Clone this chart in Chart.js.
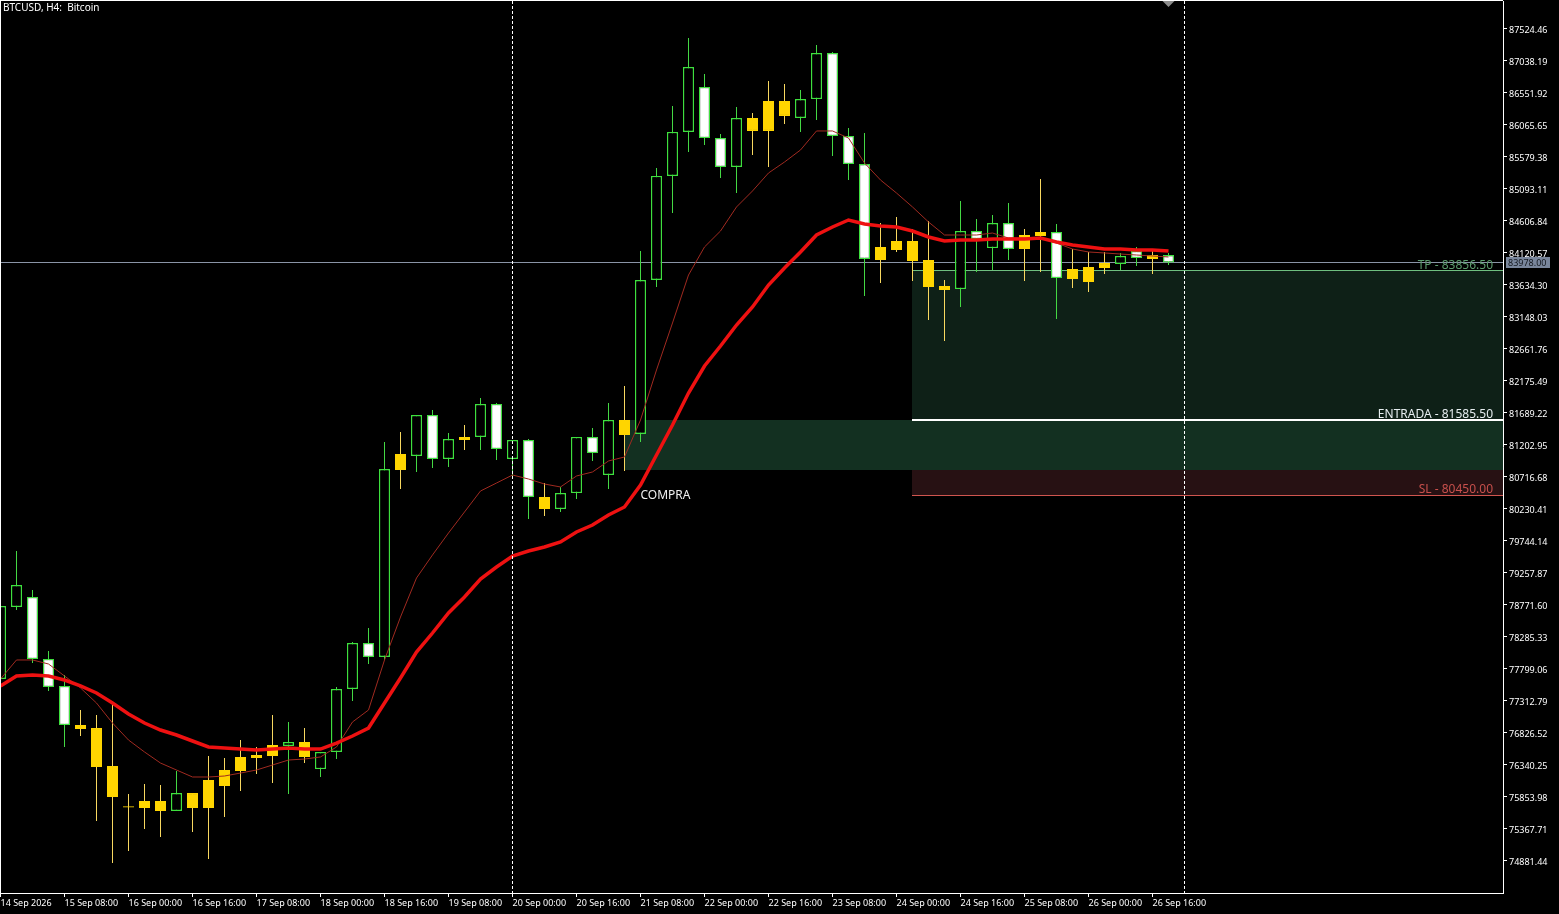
<!DOCTYPE html>
<html>
<head>
<meta charset="utf-8">
<title>BTCUSD H4</title>
<script src="https://cdn.jsdelivr.net/npm/chart.js@4"></script>
<style>
  html, body { margin: 0; padding: 0; background: #000; overflow: hidden; }
  canvas { display: block; }
</style>
</head>
<body>
<canvas id="chart" width="1559" height="914"></canvas>
<script>
// candle type per bar: u = hollow up, d = white down, g = gold
const types = [
  "u","u","d","d","d","g","g","g","g","g","g","u","g","g","g","g","g","g","u","g",
  "u","u","u","d","u","g","u","d","u","g","u","d","u","d","g","u","u","d","u","g",
  "u","u","u","u","d","d","u","g","g","g","u","u","d","d","d","g","g","g","g","g",
  "u","d","u","d","g","g","d","g","g","g","u","d","g","d"
];

const highs = [78756,79592,78999,78073,77708,77176,77100,77282,75899,76051,76036,76249,75914,76477,76446,76720,76614,77100,76994,76902,
  76538,77526,78210,78422,81249,81401,81659,81735,81385,81507,81917,81841,81279,81294,80625,80565,81325,81461,81841,82100,
  84151,85412,86355,87387,86840,85929,86340,86248,86734,86688,86597,87281,87175,86020,85944,84576,84668,84485,84607,83710,
  84911,84637,84698,84880,84485,85245,84561,84181,84136,84136,84121,84212,84181,84121];
const lows = [77647,78696,77890,77465,76614,76781,75489,74851,75033,75367,75246,75641,75322,74912,75550,75945,76203,76066,75899,76370,
  76158,76431,77313,77875,77936,80534,80793,80853,80869,81127,81127,80975,80717,80078,80124,80185,80382,80960,80534,80808,
  81249,83604,84728,85656,85762,85260,85032,85610,85428,86081,85960,86142,85595,85230,83467,83664,84136,83695,83102,82783,
  83300,83832,83862,84014,83695,83832,83117,83588,83528,83801,83862,83923,83801,83938];
const opens = [77647,78741,78893,77951,77541,76948,76902,76325,75712,75793,75793,75641,75914,76112,76021,76249,76446,76477,76629,76690,
  76279,76538,77495,78194,77982,81066,81036,81659,80990,81325,81325,81826,80990,81279,80413,80230,80473,81325,80747,81583,
  81370,83710,85291,85960,86643,85868,85428,86172,86430,86430,86172,86460,87159,85899,85473,84212,84303,84303,84014,83619,
  83573,84455,84196,84576,84394,84440,84440,83877,83908,83968,83953,84151,84090,84090];
const closes = [78756,79075,77951,77526,76948,76887,76310,75854,75695,75687,75641,75914,75687,75687,76264,76462,76492,76644,76690,76462,
  76538,77495,78194,77982,80838,80823,81659,80990,81294,81279,81826,81142,81279,80413,80230,80473,81325,81081,81583,81355,
  83710,85291,85960,86947,85868,85428,86172,85975,85975,86203,86460,87159,85899,85473,84029,84014,84166,83999,83604,83558,
  84455,84333,84576,84181,84181,84379,83740,83725,83680,83892,84075,84044,84029,83978];

const fastMa = [77647,77936,77936,77875,77693,77511,77282,76978,76720,76538,76370,76264,76158,76158,76173,76218,76264,76340,76416,76431,
  76462,76614,76994,77176,77936,78589,79182,79532,79866,80185,80504,80625,80747,80686,80610,80565,80732,80793,80960,81021,
  81583,82343,83057,83786,84212,84455,84820,85063,85336,85503,85686,85975,85975,85868,85488,85230,85032,84820,84592,84394,
  84394,84394,84424,84348,84348,84348,84272,84181,84136,84121,84105,84090,84075,84060];
const slowMa = [77541,77693,77708,77693,77632,77541,77434,77282,77115,76978,76872,76796,76705,76614,76598,76583,76568,76583,76598,76583,
  76583,76674,76781,76902,77282,77662,78057,78346,78650,78893,79166,79349,79516,79592,79653,79729,79881,79987,80139,80261,
  80595,81051,81507,81993,82403,82707,83026,83300,83634,83892,84136,84394,84516,84622,84561,84531,84516,84455,84364,84303,
  84318,84318,84333,84333,84333,84348,84288,84242,84212,84181,84181,84166,84166,84151];

const priceTicks = [87524.46,87038.19,86551.92,86065.65,85579.38,85093.11,84606.84,84120.57,83634.30,83148.03,82661.76,82175.49,81689.22,81202.95,
  80716.68,80230.41,79744.14,79257.87,78771.60,78285.33,77799.06,77312.79,76826.52,76340.25,75853.98,75367.71,74881.44];
const timeLabels = ["14 Sep 2026","15 Sep 08:00","16 Sep 00:00","16 Sep 16:00","17 Sep 08:00","18 Sep 00:00","18 Sep 16:00","19 Sep 08:00",
  "20 Sep 00:00","20 Sep 16:00","21 Sep 08:00","22 Sep 00:00","22 Sep 16:00","23 Sep 08:00","24 Sep 00:00","24 Sep 16:00","25 Sep 08:00",
  "26 Sep 00:00","26 Sep 16:00"];
const BARS_PER_LABEL = 4;

const TP = 83856.50;
const ENTRY = 81585.50;
const SL = 80450.00;
const ENTRY_ZONE_LOW = 80823;
const LAST = 83978.00;
const ENTRY_BAR = 39;   // where the entry zone starts
const SETUP_BAR = 57;   // where the tp/sl boxes start
const MARK_BARS = [32, 74]; // dashed verticals

const colors = {
  u: { fill: "#000000", edge: "#3ee03e", wick: "#44d844", line: 1.4 },
  d: { fill: "#ffffff", edge: "#3ee03e", wick: "#44d844", line: 1.15 },
  g: { fill: "#ffd500", edge: "#ffd500", wick: "#f8d860", line: 1 }
};

const barIdx = highs.map((_, i) => i);

const overlay = {
  id: "overlay",
  beforeDatasetsDraw(chart) {
    const { ctx, chartArea: a, scales: { x, y } } = chart;
    const zone = (bar, top, bottom, color) => {
      const left = Math.round(x.getPixelForValue(bar) - 0.5);
      const t = Math.round(y.getPixelForValue(top));
      const b = Math.round(y.getPixelForValue(bottom));
      ctx.fillStyle = color;
      ctx.fillRect(left, t, a.right - left, b - t);
    };
    const level = (bar, price, color, w) => {
      const left = bar === null ? a.left : Math.round(x.getPixelForValue(bar) - 0.5);
      const py = Math.round(y.getPixelForValue(price));
      ctx.fillStyle = color;
      ctx.fillRect(left, py - Math.floor(w / 2), a.right - left, w);
    };
    ctx.save();
    zone(SETUP_BAR, TP, ENTRY, "#0e2017");
    zone(ENTRY_BAR, ENTRY, ENTRY_ZONE_LOW, "#133021");
    zone(SETUP_BAR, ENTRY_ZONE_LOW, SL, "#271113");
    level(null, LAST, "#8a94a6", 1);
    level(SETUP_BAR, TP, "#6fbf80", 1);
    level(SETUP_BAR, ENTRY, "#ffffff", 2);
    level(SETUP_BAR, SL, "#d0554f", 1);
    ctx.restore();
  },
  afterDatasetsDraw(chart) {
    const { ctx, chartArea: a, scales: { x, y } } = chart;
    ctx.save();

    // frame
    ctx.fillStyle = "#ffffff";
    ctx.fillRect(0, 0, a.right, 1);
    ctx.fillRect(0, 0, 1, a.bottom);

    // dashed verticals
    ctx.strokeStyle = "#ffffff";
    ctx.lineWidth = 1;
    ctx.setLineDash([3, 2]);
    MARK_BARS.forEach(b => {
      const px = x.getPixelForValue(b);
      ctx.beginPath();
      ctx.moveTo(px, a.top);
      ctx.lineTo(px, a.bottom);
      ctx.stroke();
    });
    ctx.setLineDash([]);

    // shift marker
    const mx = x.getPixelForValue(highs.length - 1);
    ctx.fillStyle = "#8c8c8c";
    ctx.beginPath();
    ctx.moveTo(mx - 6, 1);
    ctx.lineTo(mx + 6, 1);
    ctx.lineTo(mx, 7);
    ctx.fill();

    // labels
    ctx.textBaseline = "middle";
    ctx.font = "12px 'Noto Sans'";
    ctx.textAlign = "right";
    const label = (text, price, color) => {
      ctx.fillStyle = color;
      ctx.fillText(text, 1493, y.getPixelForValue(price) - 5);
    };
    label("TP - " + TP.toFixed(2), TP, "#5d9c6e");
    label("ENTRADA - " + ENTRY.toFixed(2), ENTRY, "#e6edf0");
    label("SL - " + SL.toFixed(2), SL, "#c8504c");

    ctx.textAlign = "left";
    ctx.fillStyle = "#f0f0f0";
    ctx.fillText("COMPRA", x.getPixelForValue(ENTRY_BAR) + 16, y.getPixelForValue(SL) + 1);

    ctx.font = "10px 'Noto Sans'";
    ctx.fillStyle = "#ffffff";
    ctx.fillText("BTCUSD, H4:  Bitcoin", 3, 8);

    // price axis labels, one pixel under the tick like the terminal does
    ctx.font = "9px 'Noto Sans'";
    ctx.fillStyle = "#ffffff";
    y.ticks.forEach(t => {
      ctx.fillText(t.value.toFixed(2), a.right + 6, y.getPixelForValue(t.value) + 1);
    });

    // last price tag
    const ly = Math.round(y.getPixelForValue(LAST));
    ctx.fillStyle = "#79869c";
    ctx.fillRect(1506, ly - 5, 44, 11);
    ctx.fillStyle = "#14181f";
    ctx.fillText(LAST.toFixed(2), 1508, ly + 1);
    ctx.restore();
  }
};

new Chart(document.getElementById("chart"), {
  data: {
    datasets: [
      {
        type: "line",
        label: "MA slow",
        data: slowMa.map((v, i) => ({ x: i, y: v })),
        borderColor: "#ee1111",
        borderWidth: 3.5,
        pointRadius: 0,
        tension: 0,
        order: 1
      },
      {
        type: "line",
        label: "MA fast",
        data: fastMa.map((v, i) => ({ x: i, y: v })),
        borderColor: "#a02a20",
        borderWidth: 1,
        pointRadius: 0,
        tension: 0,
        order: 2
      },
      {
        type: "bar",
        label: "Bodies",
        data: barIdx.map(i => ({ x: i, y: [opens[i], closes[i]] })),
        backgroundColor: types.map(t => colors[t].fill),
        borderColor: types.map(t => colors[t].edge),
        borderWidth: types.map(t => colors[t].line),
        borderSkipped: false,
        inflateAmount: 0,
        barThickness: 11,
        order: 3
      },
      {
        type: "bar",
        label: "Wicks",
        data: barIdx.map(i => ({ x: i, y: [lows[i], highs[i]] })),
        backgroundColor: types.map(t => colors[t].wick),
        borderWidth: 0,
        inflateAmount: 0,
        barThickness: 1,
        order: 4
      }
    ]
  },
  options: {
    responsive: false,
    animation: false,
    devicePixelRatio: 1,
    layout: { padding: { top: 1, left: 0, right: 0, bottom: 0 } },
    plugins: { legend: { display: false }, title: { display: false }, tooltip: { enabled: false } },
    datasets: { bar: { grouped: false } },
    scales: {
      x: {
        type: "linear",
        offset: false,
        min: -0.03125,
        max: 93.90625,
        afterFit(s) { s.height = 21; s.paddingLeft = 0; s.paddingRight = 0; },
        afterBuildTicks(s) { s.ticks = timeLabels.map((_, i) => ({ value: i * BARS_PER_LABEL })); },
        grid: { offset: false, drawOnChartArea: false, color: "#ffffff", tickLength: 4 },
        border: { color: "#ffffff" },
        ticks: {
          autoSkip: false,
          minRotation: 0,
          maxRotation: 0,
          align: "start",
          color: "#ffffff",
          padding: 1,
          font: { family: "'Noto Sans'", size: 9 },
          callback: (v) => timeLabels[v / BARS_PER_LABEL]
        }
      },
      y: {
        type: "linear",
        position: "right",
        min: 74395.1,
        max: 87949.9,
        afterFit(s) { s.width = 56; s.paddingTop = 0; s.paddingBottom = 0; },
        afterBuildTicks(s) { s.ticks = priceTicks.map(v => ({ value: v })); },
        grid: { drawOnChartArea: false, color: "#ffffff", tickLength: 4 },
        border: { color: "#ffffff" },
        ticks: { display: false }
      }
    }
  },
  plugins: [overlay]
});
</script>
</body>
</html>
